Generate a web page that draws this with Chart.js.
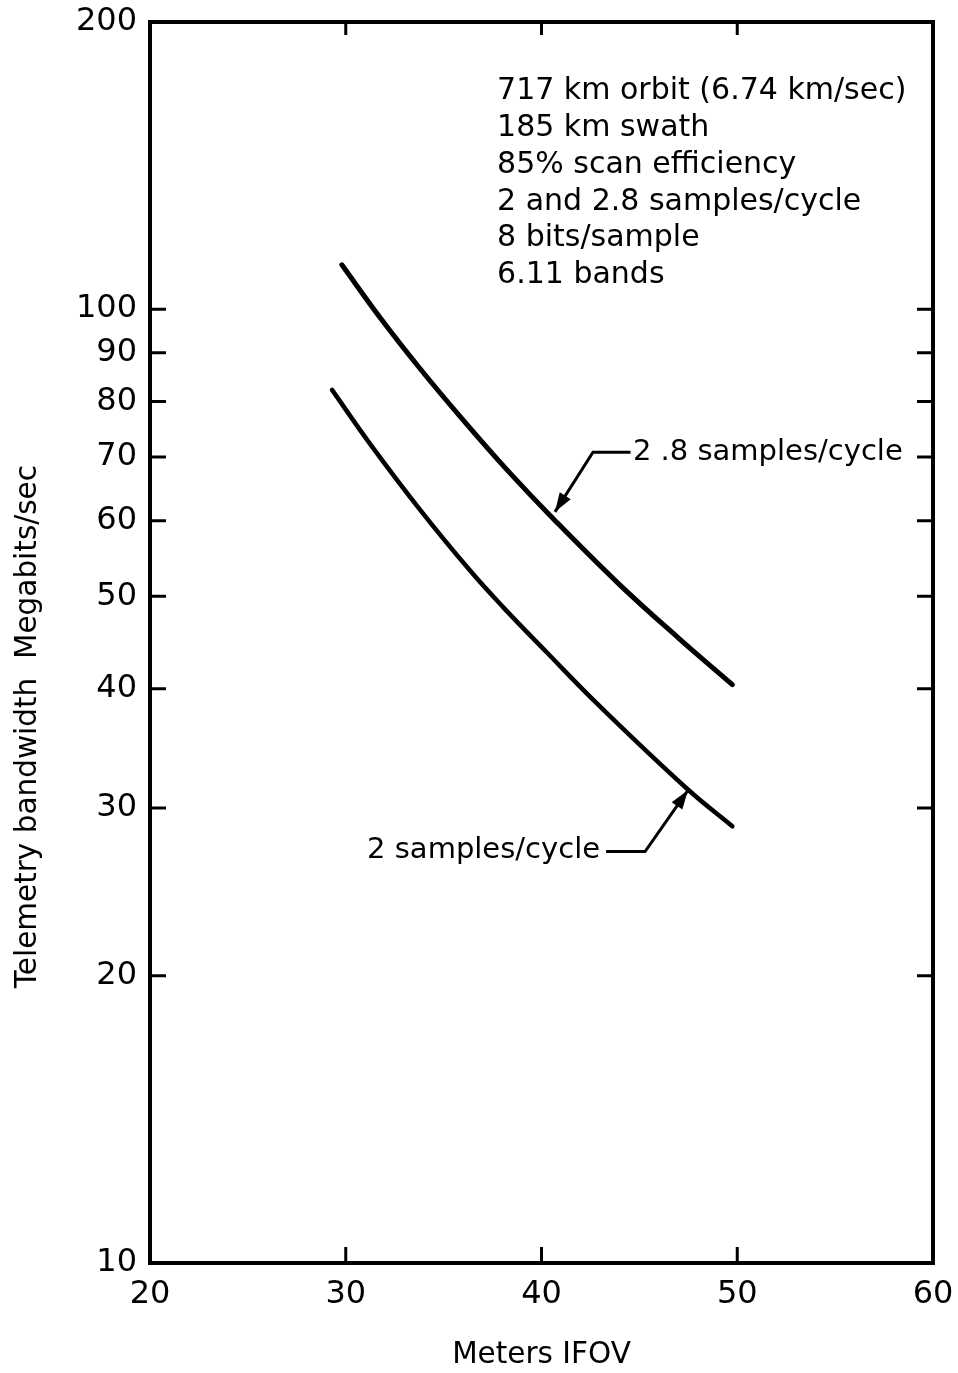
<!DOCTYPE html>
<html>
<head>
<meta charset="utf-8">
<script src="https://cdn.jsdelivr.net/npm/chart.js@4.4.0/dist/chart.umd.min.js"></script>
<style>
  html, body { margin: 0; padding: 0; background: #fff; }
</style>
</head>
<body>
<canvas id="bandwidthChart" width="958" height="1373"></canvas>
<script>
// Values (IFOV in meters, bandwidth in Mbit/s)
const ifovHigh = [29.8, 31.75, 33.8, 36.0, 38.25, 40.6, 44.0, 47.0, 49.75];
const bwHigh = [111.3, 98.0, 86.6, 76.5, 67.8, 60.3, 51.4, 45.2, 40.4];   // 2.8 samples/cycle

const ifovLow = [29.3, 31.25, 33.8, 36.35, 38.0, 40.3, 43.0, 47.45, 49.75];
const bwLow = [82.3, 72.2, 61.6, 53.2, 48.8, 43.6, 38.3, 31.4, 28.7];     // 2 samples/cycle

const xTicks = [20, 30, 40, 50, 60];
const yTicks = [10, 20, 30, 40, 50, 60, 70, 80, 90, 100, 200];

const noteLines = [
  '717 km orbit (6.74 km/sec)',
  '185 km swath',
  '85% scan efficiency',
  '2 and 2.8 samples/cycle',
  '8 bits/sample',
  '6.11 bands'
];

const FONT = '"DejaVu Sans", sans-serif';

function toPoints(xs, ys) {
  return xs.map((x, i) => ({ x: x, y: ys[i] }));
}

function arrow(ctx, x1, y1, x2, y2) {
  const ang = Math.atan2(y2 - y1, x2 - x1);
  const len = 19, half = 6.5;
  ctx.beginPath();
  ctx.moveTo(x2, y2);
  ctx.lineTo(x2 - len * Math.cos(ang) + half * Math.sin(ang), y2 - len * Math.sin(ang) - half * Math.cos(ang));
  ctx.lineTo(x2 - len * Math.cos(ang) - half * Math.sin(ang), y2 - len * Math.sin(ang) + half * Math.cos(ang));
  ctx.closePath();
  ctx.fill();
}

// frame, inward ticks, notes and callouts
const framePlugin = {
  id: 'framePlugin',
  afterDatasetsDraw(chart) {
    const { ctx, chartArea: a, scales: { x, y } } = chart;
    ctx.save();
    ctx.strokeStyle = '#000';
    ctx.fillStyle = '#000';

    ctx.lineWidth = 4;
    ctx.strokeRect(a.left, a.top, a.right - a.left, a.bottom - a.top);

    ctx.lineWidth = 3;
    ctx.beginPath();
    yTicks.forEach(v => {
      if (v === yTicks[0] || v === yTicks[yTicks.length - 1]) return;
      const py = y.getPixelForValue(v);
      ctx.moveTo(a.left, py); ctx.lineTo(a.left + 16, py);
      ctx.moveTo(a.right, py); ctx.lineTo(a.right - 16, py);
    });
    xTicks.forEach(v => {
      if (v === xTicks[0] || v === xTicks[xTicks.length - 1]) return;
      const px = x.getPixelForValue(v);
      ctx.moveTo(px, a.bottom); ctx.lineTo(px, a.bottom - 16);
      ctx.moveTo(px, a.top); ctx.lineTo(px, a.top + 13);
    });
    ctx.stroke();

    // parameter block
    ctx.font = '30px ' + FONT;
    ctx.textAlign = 'left';
    ctx.textBaseline = 'alphabetic';
    const nx = x.getPixelForValue(37.73);
    const ny = y.getPixelForValue(166);
    noteLines.forEach((t, i) => ctx.fillText(t, nx, ny + i * 36.8));

    // 2.8 samples/cycle callout
    ctx.font = '29px ' + FONT;
    ctx.textBaseline = 'middle';
    const hy = y.getPixelForValue(70.8);
    ctx.fillText('2 .8 samples/cycle', x.getPixelForValue(44.67), hy);
    const c1x = x.getPixelForValue(42.63);
    const t1x = x.getPixelForValue(40.69), t1y = y.getPixelForValue(61.3);
    ctx.lineWidth = 3;
    ctx.beginPath();
    ctx.moveTo(x.getPixelForValue(44.55), hy);
    ctx.lineTo(c1x, hy);
    ctx.lineTo(t1x, t1y);
    ctx.stroke();
    arrow(ctx, c1x, hy, t1x, t1y);

    // 2 samples/cycle callout
    const ly = y.getPixelForValue(27.0);
    ctx.textAlign = 'right';
    ctx.fillText('2 samples/cycle', x.getPixelForValue(42.99), y.getPixelForValue(27.1));
    const c2x = x.getPixelForValue(45.29);
    const t2x = x.getPixelForValue(47.48), t2y = y.getPixelForValue(31.3);
    ctx.beginPath();
    ctx.moveTo(x.getPixelForValue(43.3), ly);
    ctx.lineTo(c2x, ly);
    ctx.lineTo(t2x, t2y);
    ctx.stroke();
    arrow(ctx, c2x, ly, t2x, t2y);

    // y axis title
    ctx.save();
    ctx.translate(28, y.getPixelForValue(36.5));
    ctx.rotate(-Math.PI / 2);
    ctx.textAlign = 'center';
    ctx.textBaseline = 'middle';
    ctx.font = '29.5px ' + FONT;
    ctx.fillText('Telemetry bandwidth  Megabits/sec', 0, 0);
    ctx.restore();

    ctx.restore();
  }
};

const ctx = document.getElementById('bandwidthChart').getContext('2d');
const bandwidthChart = new Chart(ctx, {
  type: 'line',
  data: {
    datasets: [
      {
        label: '2.8 samples/cycle',
        data: toPoints(ifovHigh, bwHigh),
        borderColor: '#000',
        borderWidth: 5,
        pointRadius: 0,
        tension: 0.4,
        borderCapStyle: 'round'
      },
      {
        label: '2 samples/cycle',
        data: toPoints(ifovLow, bwLow),
        borderColor: '#000',
        borderWidth: 4.5,
        pointRadius: 0,
        tension: 0.4,
        borderCapStyle: 'round'
      }
    ]
  },
  options: {
    responsive: false,
    animation: false,
    layout: { padding: { top: 22, right: 25, left: 0, bottom: 0 } },
    plugins: {
      legend: { display: false },
      tooltip: { enabled: false }
    },
    scales: {
      x: {
        type: 'linear',
        min: 20,
        max: 60,
        afterFit: s => { s.height = 110; s.paddingLeft = 0; s.paddingRight = 0; },
        afterBuildTicks: s => { s.ticks = xTicks.map(v => ({ value: v })); },
        grid: { display: false, drawTicks: false },
        border: { display: false },
        ticks: {
          color: '#000',
          font: { family: FONT, size: 32 },
          padding: 12,
          maxRotation: 0,
          autoSkip: false
        },
        title: {
          display: true,
          text: 'Meters IFOV',
          color: '#000',
          font: { family: FONT, size: 29.5 },
          padding: { top: 0, bottom: 0 }
        }
      },
      y: {
        type: 'logarithmic',
        min: 10,
        max: 200,
        afterFit: s => { s.width = 150; s.paddingTop = 0; s.paddingBottom = 0; },
        afterBuildTicks: s => { s.ticks = yTicks.map(v => ({ value: v })); },
        grid: { display: false, drawTicks: false },
        border: { display: false },
        ticks: {
          color: '#000',
          font: { family: FONT, size: 32 },
          padding: 13,
          autoSkip: false,
          callback: v => String(v)
        }
      }
    }
  },
  plugins: [framePlugin]
});
</script>
</body>
</html>
